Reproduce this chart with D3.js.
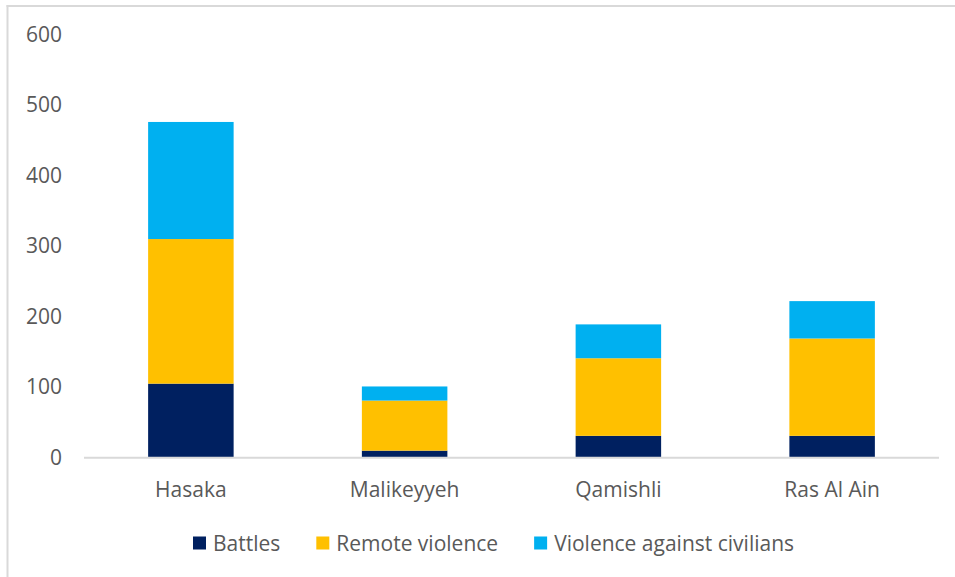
<!DOCTYPE html>
<html>
<head>
<meta charset="utf-8">
<script src="https://cdn.jsdelivr.net/npm/d3@7"></script>
<style>
  html, body { margin: 0; padding: 0; background: #fff; }
  svg { display: block; font-family: "Open Sans", sans-serif; }
</style>
</head>
<body>
<svg id="chart" width="955" height="577"></svg>
<script>
const categories = ["Hasaka", "Malikeyyeh", "Qamishli", "Ras Al Ain"];
const seriesNames = ["Battles", "Remote violence", "Violence against civilians"];
const battles = [105, 10, 31, 31];
const remoteViolence = [205, 71, 110, 138];
const violenceAgainstCivilians = [166, 20, 48, 53];
const yTicks = [0, 100, 200, 300, 400, 500, 600];
const colors = ["#002060", "#FFC000", "#00B0F0"];

const rows = categories.map((c, i) => ({
  category: c,
  "Battles": battles[i],
  "Remote violence": remoteViolence[i],
  "Violence against civilians": violenceAgainstCivilians[i]
}));

const svg = d3.select("#chart");
const W = 955, H = 577;
const plotLeft = 84, plotRight = 939, plotTop = 34.5, plotBottom = 457.7;
const FS = "21px";

// frame
svg.append("line").attr("x1", 7.5).attr("x2", 7.5).attr("y1", 5).attr("y2", H)
  .attr("stroke", "#d9d9d9").attr("stroke-width", 2);
svg.append("line").attr("x1", 6.5).attr("x2", W).attr("y1", 6).attr("y2", 6)
  .attr("stroke", "#d9d9d9").attr("stroke-width", 2);

const x = d3.scaleBand().domain(categories).range([plotLeft, plotRight])
  .paddingInner(0.6).paddingOuter(0.3);
const y = d3.scaleLinear().domain([0, 600]).range([plotBottom, plotTop]);

const stack = d3.stack().keys(seriesNames);
const stacked = stack(rows);
const color = d3.scaleOrdinal().domain(seriesNames).range(colors);

svg.append("g").selectAll("g").data(stacked).join("g")
  .attr("fill", d => color(d.key))
  .selectAll("rect").data(d => d).join("rect")
  .attr("x", d => x(d.data.category))
  .attr("width", x.bandwidth())
  .attr("y", d => y(d[1]))
  .attr("height", d => y(d[0]) - y(d[1]));

// y axis labels
const yAxis = d3.axisLeft(y).tickValues(yTicks).tickSize(0).tickPadding(0);
const yg = svg.append("g").attr("transform", "translate(62,0)").call(yAxis);
yg.select(".domain").remove();
yg.selectAll("text").attr("fill", "#595959").style("font-size", FS)
  .style("font-family", "'Open Sans', sans-serif");

// x axis
const xAxis = d3.axisBottom(x).tickSize(0).tickPadding(0);
const xg = svg.append("g").attr("transform", `translate(0,${plotBottom})`).call(xAxis);
xg.select(".domain").attr("stroke", "#d9d9d9").attr("stroke-width", 2)
  .attr("d", `M${plotLeft},0H${plotRight}`);
xg.selectAll("text").attr("fill", "#595959").style("font-size", FS)
  .style("font-family", "'Open Sans', sans-serif")
  .attr("dy", null).attr("y", 31.5).attr("dominant-baseline", "central");

// legend
const legend = svg.append("g");
let lx = 193;
const ly = 543;
seriesNames.forEach((name, i) => {
  const g = legend.append("g").attr("transform", `translate(${lx},0)`);
  g.append("rect").attr("x", 0).attr("y", ly - 6.5).attr("width", 13).attr("height", 13)
    .attr("fill", colors[i]);
  const t = g.append("text").attr("x", 20).attr("y", ly)
    .attr("dominant-baseline", "central")
    .attr("fill", "#595959").style("font-size", FS).text(name);
  lx += 20 + t.node().getComputedTextLength() + 36;
});
</script>
</body>
</html>
